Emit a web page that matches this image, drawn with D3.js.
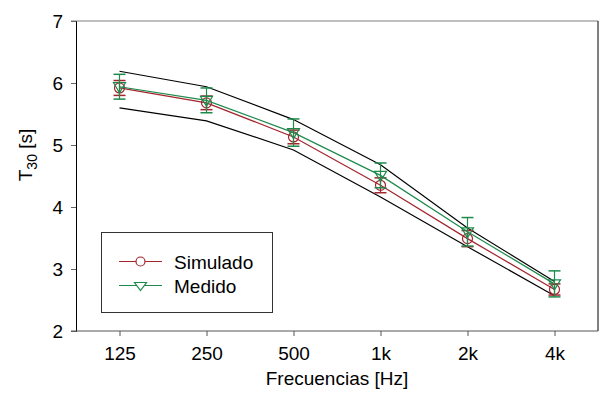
<!DOCTYPE html>
<html><head><meta charset="utf-8">
<script src="https://cdn.jsdelivr.net/npm/d3@7"></script>
<style>body{margin:0;background:#fff;} svg{display:block;font-family:"Liberation Sans",Arial,sans-serif;}</style>
</head><body>
<svg id="c" width="602" height="410"></svg>
<script>
const categories = ["125","250","500","1k","2k","4k"];
const simulado = [5.92, 5.68, 5.13, 4.35, 3.49, 2.67];
const simuladoErr = [0.12, 0.11, 0.11, 0.12, 0.13, 0.09];
const medido = [5.94, 5.72, 5.20, 4.51, 3.60, 2.76];
const medidoErr = [0.2, 0.2, 0.22, 0.2, 0.23, 0.21];
const upper = [6.19, 5.94, 5.41, 4.68, 3.66, 2.80];
const lower = [5.60, 5.39, 4.92, 4.16, 3.36, 2.57];
const yTicks = [2,3,4,5,6,7];

const svg = d3.select("#c");
const L = 76, R = 598, T = 21, B = 331;
const FS = 19;
const x = d3.scalePoint().domain(categories).range([L, R]).padding(0.5);
const y = d3.scaleLinear().domain([2,7]).range([B, T]);

const red = "#a3262e", green = "#1e8a4c";

// frame
svg.append("line").attr("x1",71).attr("x2",R).attr("y1",T).attr("y2",T).attr("stroke","#808080").attr("stroke-width",1.2);
svg.append("line").attr("x1",R).attr("x2",R).attr("y1",T).attr("y2",B).attr("stroke","#000").attr("stroke-width",1);

// axes
const yAxis = d3.axisLeft(y).tickValues(yTicks).tickSize(5).tickPadding(8).tickFormat(d3.format("d"));
const gy = svg.append("g").attr("transform",`translate(${L},0)`).call(yAxis);
gy.select(".domain").attr("stroke","#000");
gy.selectAll(".tick line").attr("stroke","#666");
gy.selectAll("text").attr("font-size",FS).attr("fill","#000").attr("font-family","Liberation Sans, Arial, sans-serif");

const xAxis = d3.axisBottom(x).tickSize(5).tickPadding(11).tickSizeOuter(0);
const gx = svg.append("g").attr("transform",`translate(0,${B})`).call(xAxis);
gx.select(".domain").attr("stroke","#555").attr("d",`M71,0H${R}`);
gx.selectAll(".tick line").attr("stroke","#555");
gx.selectAll("text").attr("font-size",FS).attr("fill","#000").attr("font-family","Liberation Sans, Arial, sans-serif");

// axis titles
svg.append("text").attr("x",337).attr("y",385).attr("text-anchor","middle").attr("font-size",FS).text("Frecuencias [Hz]");
const yt = svg.append("text").attr("transform","translate(32,155) rotate(-90)").attr("text-anchor","middle").attr("font-size",FS);
yt.append("tspan").text("T");
yt.append("tspan").attr("font-size",14).attr("dy",5).text("30");
yt.append("tspan").attr("dy",-5).text(" [s]");

const line = d3.line().x((d,i)=>x(categories[i])).y(d=>y(d));

// envelope
[upper, lower].forEach(arr=>{
  svg.append("path").datum(arr).attr("d",line).attr("fill","none").attr("stroke","#000").attr("stroke-width",1.2);
});

function series(vals, errs, color, shape){
  svg.append("path").datum(vals).attr("d",line).attr("fill","none").attr("stroke",color).attr("stroke-width",1.2);
  const g = svg.append("g");
  vals.forEach((v,i)=>{
    const cx = x(categories[i]);
    const y1 = y(v+errs[i]), y2 = y(v-errs[i]);
    g.append("line").attr("x1",cx).attr("x2",cx).attr("y1",y1).attr("y2",y2).attr("stroke",color).attr("stroke-width",1.2);
    [y1,y2].forEach(yy=>g.append("line").attr("x1",cx-6).attr("x2",cx+6).attr("y1",yy).attr("y2",yy).attr("stroke",color).attr("stroke-width",1.5));
  });
  vals.forEach((v,i)=>{
    const cx = x(categories[i]), cy = y(v);
    if(shape==="circle"){
      g.append("circle").attr("cx",cx).attr("cy",cy).attr("r",5).attr("fill","none").attr("stroke",color).attr("stroke-width",1.2);
    } else {
      g.append("path").attr("d",`M${cx-6},${cy-4}L${cx+6},${cy-4}L${cx},${cy+6}Z`).attr("fill","none").attr("stroke",color).attr("stroke-width",1.2);
    }
  });
}
series(simulado, simuladoErr, red, "circle");
series(medido, medidoErr, green, "tri");

// legend
const lg = svg.append("g");
lg.append("rect").attr("x",101.5).attr("y",232.5).attr("width",171).attr("height",80).attr("fill","#fff").attr("stroke","#333").attr("stroke-width",1);
const leg = [{n:"Simulado",c:red,s:"circle"},{n:"Medido",c:green,s:"tri"}];
leg.forEach((d,i)=>{
  const ly = 261.5 + i*24;
  lg.append("line").attr("x1",119).attr("x2",162).attr("y1",ly).attr("y2",ly).attr("stroke",d.c).attr("stroke-width",1.2);
  if(d.s==="circle") lg.append("circle").attr("cx",140.5).attr("cy",ly).attr("r",4.5).attr("fill","#fff").attr("stroke",d.c).attr("stroke-width",1.2);
  else lg.append("path").attr("d",`M${134.5},${ly-3}L${146.5},${ly-3}L${140.5},${ly+5}Z`).attr("fill","#fff").attr("stroke",d.c).attr("stroke-width",1.2);
  lg.append("text").attr("x",174).attr("y",ly+7).attr("font-size",FS).text(d.n);
});
</script>
</body></html>
